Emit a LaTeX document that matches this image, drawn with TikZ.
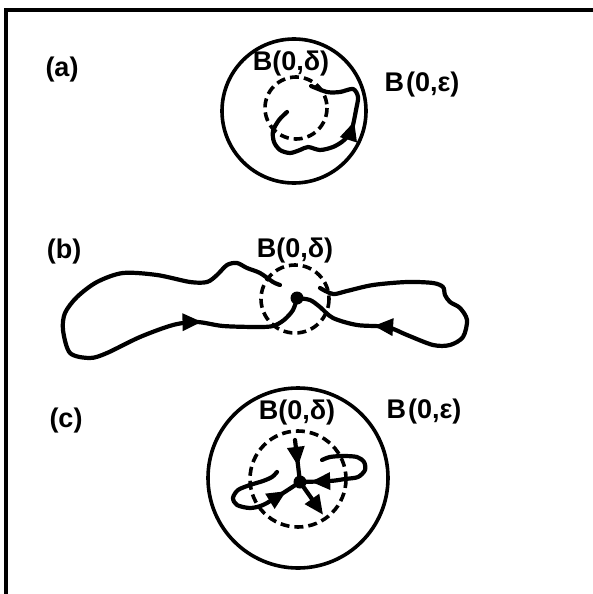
\documentclass[tikz,border=0pt]{standalone}
\usepackage{fontspec}
\setmainfont{Liberation Sans}
\usetikzlibrary{decorations.markings}
\tikzset{
  lab/.style={inner sep=0pt, font=\fontsize{27}{31}\selectfont\bfseries},
  solidc/.style={line width=3.6pt},
  dashc/.style={line width=3.6pt, dash pattern=on 9pt off 5pt},
  traj/.style={line width=4.2pt, line cap=round, line join=round},
  dotn/.style={circle, fill=black, inner sep=0pt, minimum size=13pt},
  midarrow/.style={postaction={decorate}, decoration={markings,
      mark=at position #1 with {\fill (7pt,0pt) -- (-12pt,9pt) -- (-12pt,-9pt) -- cycle;}}},
}
\begin{document}
\begin{tikzpicture}[x=1pt,y=-1pt]
\useasboundingbox (0,0) rectangle (593,594);
\fill[white] (0,0) rectangle (593,594);
% frame
\draw[line width=3.8pt] (593,10) -- (6,10) -- (6,594);

% ---------- (a)
\node[lab] (la) at (62,70) {(a)};
\draw[solidc] (294,111) circle[radius=72];
\draw[dashc] (296,108) circle[radius=31];
\node[lab] (da) at (291,64) {B(0,δ)};
\node[lab] (ea) at (422,85) {B\kern2pt(0,ε)};
\draw[traj, midarrow=0.60] plot[smooth] coordinates {
  (287,112) (279,120) (273,131) (274,142) (280,150) (290,153) (300,150)
  (308,147) (320,150) (333,147) (343,141) (350,133) (353,125) (356,110)
  (358,97) (353,89) (340,92) (327,92) (311,86)};

% ---------- (b)
\node[lab] (lb) at (64,252) {(b)};
\node[lab] (db) at (295,251) {B(0,δ)};
\draw[dashc] (295,299) circle[radius=34];
\node[dotn] (ob) at (297,298) {};
\draw[traj, midarrow=0.78] plot[smooth] coordinates {
  (280,285) (273,282) (260,273) (247,268) (237,263) (227,265) (217,275)
  (207,282) (190,282) (157,275) (123,273) (97,282) (77,297) (65,313)
  (63,330) (70,353) (90,358) (107,353) (140,337) (173,325) (197,322)
  (223,326) (257,327) (273,326) (284,320) (293,310) (ob.center)};
\draw[traj, midarrow=0.75] plot[smooth] coordinates {
  (320,288) (333,294) (347,291) (373,285) (407,282) (433,283) (443,287)
  (445,295) (450,302) (460,308) (467,320) (463,337) (450,345) (433,345)
  (407,335) (387,327) (357,325) (333,318) (320,307) (310,300) (ob.center)};

% ---------- (c)
\node[lab] (lc) at (66,421) {(c)};
\draw[solidc] (298,478) circle[radius=90];
\draw[dashc] (298,479) circle[radius=48];
\node[lab] (dc) at (297,413) {B(0,δ)};
\node[lab] (ec) at (424,412) {B\kern2pt(0,ε)};
\node[dotn] (oc) at (300,482) {};
\coordinate (tc) at (295,440);
\coordinate (rc) at (319,509);
\draw[traj, midarrow=0.45] (tc) -- (oc.center);
\draw[traj, midarrow=0.99] (oc.center) -- (rc);
\draw[traj, midarrow=0.82] plot[smooth] coordinates {
  (277,472) (272,477) (263,481) (250,485) (238,490) (233,498) (237,505)
  (250,508) (263,505) (280,495) (oc.center)};
\draw[traj, midarrow=0.85] plot[smooth] coordinates {
  (322,460) (330,457) (343,456) (357,457) (364,462) (365,470) (358,477)
  (345,479) (330,481) (oc.center)};
\end{tikzpicture}
\end{document}
